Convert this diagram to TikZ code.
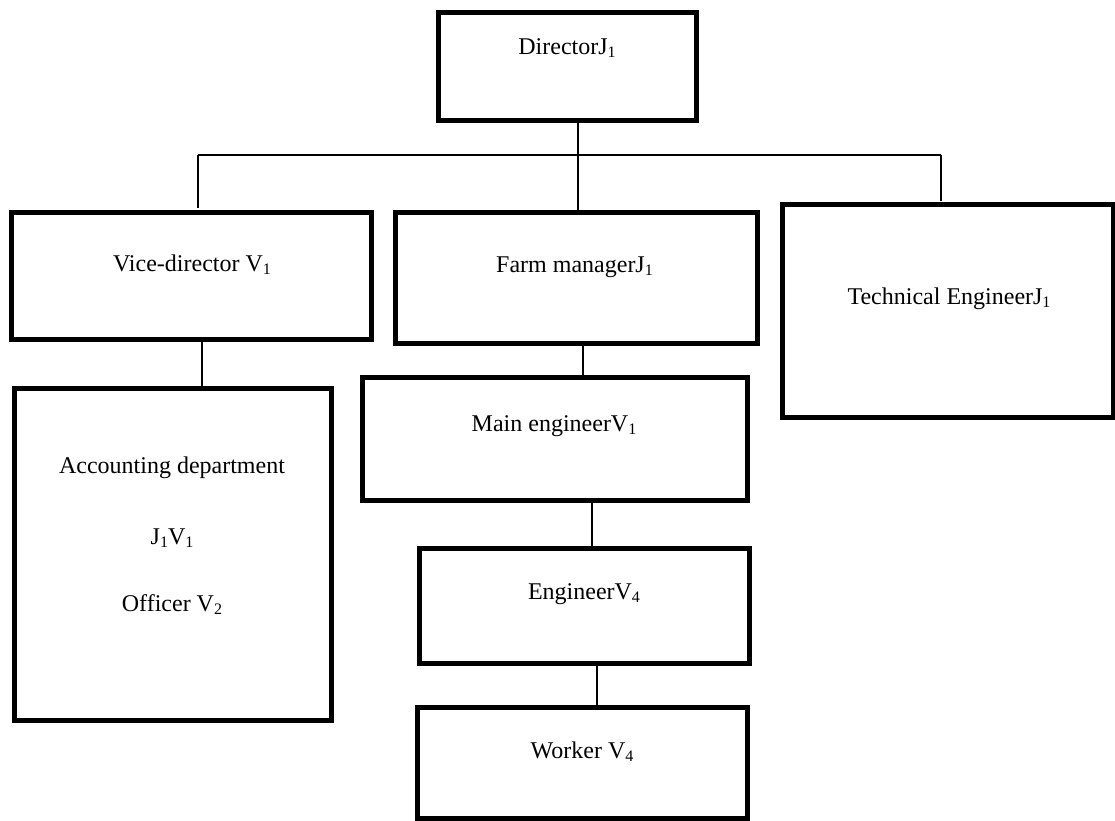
\documentclass[tikz,border=0pt]{standalone}
\usepackage{fontspec}
\setmainfont{Liberation Serif}
\usetikzlibrary{calc}
\tikzset{
  orgbox/.style={draw=black, line width=5pt, inner sep=0pt, outer sep=0pt, fill=white},
  lbl/.style={anchor=base, inner sep=0pt, font=\fontsize{24}{29}\selectfont},
  conn/.style={draw=black, line width=1.4pt}
}
\newcommand{\sbs}[1]{\raisebox{-3.5pt}{\fontsize{16}{16}\selectfont #1}}
\begin{document}
\begin{tikzpicture}[x=1pt,y=-1pt]
\useasboundingbox (0,0) rectangle (1115,820);
% boxes
\node[orgbox, minimum width=258pt, minimum height=108pt] (dir) at (567,66) {};
\node[orgbox, minimum width=360pt, minimum height=127pt] (vice) at (191,275.5) {};
\node[orgbox, minimum width=362pt, minimum height=131pt] (farm) at (576,277.5) {};
\node[orgbox, minimum width=331pt, minimum height=213pt] (tech) at (947.5,310.5) {};
\node[orgbox, minimum width=317pt, minimum height=332pt] (acct) at (172.5,554) {};
\node[orgbox, minimum width=385pt, minimum height=123pt] (main) at (554.5,438.5) {};
\node[orgbox, minimum width=330pt, minimum height=115pt] (eng) at (584,605.5) {};
\node[orgbox, minimum width=330pt, minimum height=111pt] (work) at (582,762.5) {};
% labels
\node[lbl] (tdir) at (567,54) {DirectorJ\sbs{1}};
\node[lbl] (tvice) at (192,271) {Vice-director V\sbs{1}};
\node[lbl] (tfarm) at (574.5,272) {Farm managerJ\sbs{1}};
\node[lbl] (ttech) at (949,304) {Technical EngineerJ\sbs{1}};
\node[lbl] (tacct1) at (172,473) {Accounting department};
\node[lbl] (tacct2) at (172,544) {J\sbs{1}V\sbs{1}};
\node[lbl] (tacct3) at (172,611) {Officer V\sbs{2}};
\node[lbl] (tmain) at (554,431) {Main engineerV\sbs{1}};
\node[lbl] (teng) at (584,599) {EngineerV\sbs{4}};
\node[lbl] (twork) at (582,758) {Worker V\sbs{4}};
% connectors
\coordinate (busL) at (198,155);
\coordinate (busR) at (941,155);
\coordinate (drop) at (578,155);
\draw[conn] (busL) -- (busR);
\draw[conn] (busL) -- ($(busL |- vice.north)+(0,-4)$);
\draw[conn] (busR) -- ($(busR |- tech.north)+(0,-3)$);
\draw[conn] (dir.south -| drop) -- (farm.north -| drop);
\draw[conn] ([xshift=11pt]vice.south) -- ([xshift=11pt]vice.south |- acct.north);
\draw[conn] ([xshift=7pt]farm.south) -- ([xshift=7pt]farm.south |- main.north);
\draw[conn] ([xshift=8pt]eng.north) -- ([xshift=8pt]eng.north |- main.south);
\draw[conn] ([xshift=13pt]eng.south) -- ([xshift=13pt]eng.south |- work.north);
\end{tikzpicture}
\end{document}
